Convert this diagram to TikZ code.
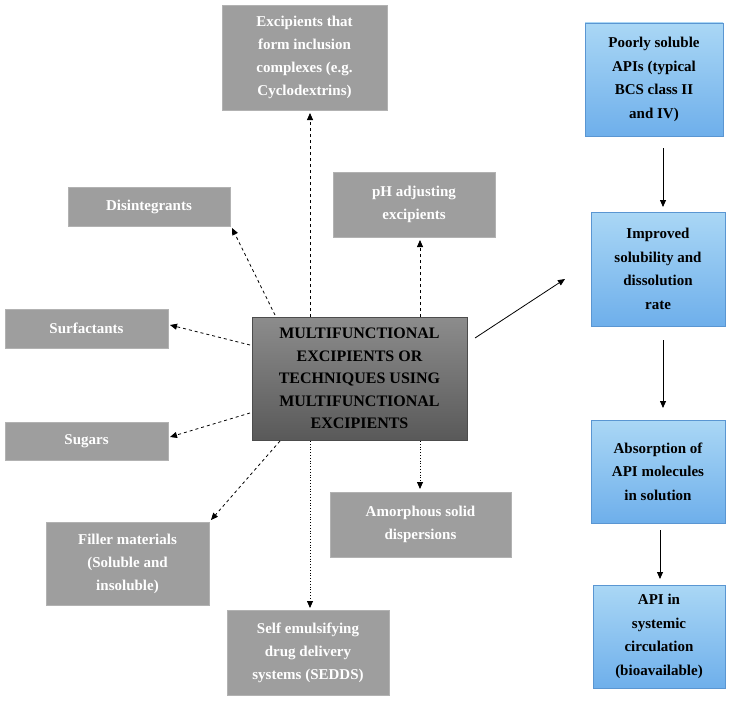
\documentclass[tikz,border=0pt]{standalone}
\usepackage{fontspec}
\setmainfont{Liberation Serif}
\usetikzlibrary{arrows.meta}
\definecolor{btop}{RGB}{170,215,245}
\definecolor{bbot}{RGB}{110,175,235}
\definecolor{bdraw}{RGB}{90,150,210}
\definecolor{gfill}{RGB}{158,158,158}
\begin{document}
\begin{tikzpicture}[x=1pt,y=-1pt,
  gbox/.style={draw=gray!60,fill=gfill,text=white,font=\fontsize{15}{23}\selectfont\bfseries,align=center,inner sep=2pt},
  bbox/.style={draw=bdraw,top color=btop,bottom color=bbot,text=black,font=\fontsize{15}{23.5}\selectfont\bfseries,align=center,inner sep=2pt},
  da/.style={dashed,thick,-{Triangle[length=7pt,width=6pt]}},
  dt/.style={dotted,thick,-{Triangle[length=7pt,width=6pt]}},
  sa/.style={thick,-{Triangle[length=7pt,width=6pt]}}]
\path[use as bounding box] (0,0) rectangle (734,701);
% gray boxes
\node[gbox,minimum width=165,minimum height=105] (inc) at (304.5,57.5) {Excipients that\\form inclusion\\complexes (e.g.\\Cyclodextrins)};
\node[gbox,minimum width=162,minimum height=39] (dis) at (149,206.5) {Disintegrants};
\node[gbox,minimum width=162,minimum height=65] (ph) at (414,204.5) {pH adjusting\\excipients};
\node[gbox,minimum width=163,minimum height=39] (sur) at (86.5,328.5) {Surfactants};
\node[gbox,minimum width=163,minimum height=38] (sug) at (86.5,441) {Sugars};
\node[gbox,minimum width=163,minimum height=83] (fil) at (127.5,563.5) {Filler materials\\(Soluble and\\insoluble)};
\node[gbox,minimum width=181,minimum height=65] (amo) at (420.5,524.5) {Amorphous solid\\dispersions};
\node[gbox,minimum width=162,minimum height=85] (sed) at (308,652.5) {Self emulsifying\\drug delivery\\systems (SEDDS)};
\node[draw=black!70,top color=black!45,bottom color=black!65,text=black,font=\fontsize{16}{22.5}\selectfont\bfseries,align=center,minimum width=215,minimum height=123,inner sep=1pt] (c) at (359.5,378.5) {MULTIFUNCTIONAL\\EXCIPIENTS OR\\TECHNIQUES USING\\MULTIFUNCTIONAL\\EXCIPIENTS};
% blue boxes
\node[bbox,minimum width=138,minimum height=113] (p) at (654,79.5) {Poorly soluble\\APIs (typical\\BCS class II\\and IV)};
\node[bbox,minimum width=134,minimum height=114] (i) at (658,269) {Improved\\solubility and\\dissolution\\rate};
\node[bbox,minimum width=134,minimum height=103] (a) at (658,471.5) {Absorption of\\API molecules\\in solution};
\node[bbox,minimum width=132,minimum height=103] (api) at (659,636.5) {API in\\systemic\\circulation\\(bioavailable)};
% connectors
\coordinate (c1) at (310,317); \coordinate (c2) at (420,317);
\coordinate (c3) at (275,315); \coordinate (c4) at (250,345);
\coordinate (c5) at (250,413); \coordinate (c6) at (280,441);
\coordinate (c7) at (310,441); \coordinate (c8) at (420,441);
\coordinate (c9) at (475,338); \coordinate (e9) at (565,279);
\draw[da] (c1) -- (310,113);
\draw[da] (c2) -- (420,240);
\draw[da] (c3) -- (232,228);
\draw[da] (c4) -- (170,325);
\draw[da] (c5) -- (170,437);
\draw[da] (c6) -- (211,520);
\draw[dt] (c7) -- (310,608);
\draw[dt] (c8) -- (420,489);
\draw[sa] (c9) -- (e9);
\draw[sa] (663,148) -- (663,207);
\draw[sa] (663,340) -- (663,408);
\draw[sa] (660,530) -- (660,579);
\end{tikzpicture}
\end{document}
